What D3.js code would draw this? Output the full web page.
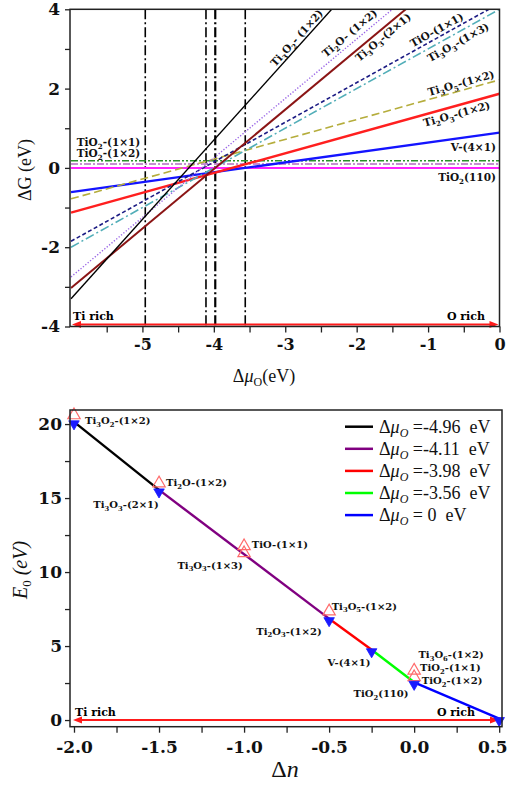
<!DOCTYPE html>
<html><head><meta charset="utf-8">
<script src="https://cdn.jsdelivr.net/npm/d3@7"></script>
<style>body{margin:0;background:#fff}svg{display:block}</style>
</head><body>
<svg id="c" width="510" height="785"></svg>
<script>
// ---------------- DATA ----------------
// top panel: ΔG vs Δμ_O
const muTicks = [-5, -4, -3, -2, -1, 0];
const muMinor = [-5.5, -4.5, -3.5, -2.5, -1.5, -0.5];
const gTicks = [-4, -2, 0, 2, 4];
const gMinor = [-3, -1, 1, 3];
const surfaces = ["Ti_3O_2- (1×2)", "Ti_2O- (1×2)", "Ti_3O_3-(2×1)", "TiO-(1×1)", "Ti_3O_3-(1×3)",
  "Ti_3O_5-(1×2)", "Ti_2O_3-(1×2)", "V-(4×1)", "TiO_2(110)", "TiO_2-(1×1)", "TiO_2-(1×2)"];
const deltaN = [-2, -1.5, -1.5, -1, -1, -0.5, -0.5, -0.25, 0, 0, 0];
const gORich = [8.7, 6.25, 5.97, 4.15, 4.0, 2.22, 1.87, 0.89, 0, 0.18, 0.10];   // ΔG at Δμ_O = 0
const muBounds = [-4.96, -4.11, -3.98, -3.56];

// bottom panel: E0 vs Δn
const nTicks = [-2.0, -1.5, -1.0, -0.5, 0.0, 0.5];
const nMinor = [-1.75, -1.25, -0.75, -0.25, 0.25];
const eTicks = [0, 5, 10, 15, 20];
const eMinor = [2.5, 7.5, 12.5, 17.5];
const envN  = [-2, -1.5, -0.5, -0.25, 0, 0.5];
const envE0 = [20.15, 15.55, 6.85, 4.75, 2.55, 0.1];
const segMu = [-4.96, -4.11, -3.98, -3.56, 0];
const allN  = [-2, -1.5, -1, -1, -0.5, 0, 0];
const allE0 = [20.6, 16.0, 11.75, 11.28, 7.35, 3.35, 2.9];
const bottomNames = ["Ti_3O_2-(1×2)", "Ti_2O-(1×2)", "Ti_3O_3-(2×1)", "TiO-(1×1)", "Ti_3O_3-(1×3)",
  "Ti_3O_5-(1×2)", "Ti_2O_3-(1×2)", "V-(4×1)", "Ti_3O_6-(1×2)", "TiO_2-(1×1)", "TiO_2-(1×2)", "TiO_2(110)"];

// ---------------- STYLES / LAYOUT ----------------
const lineColors = ["#000000", "#9a66e6", "#8b1515", "#1c1c84", "#52aeb8", "#b5ad3c", "#ff1f1f", "#1414ff", "#ff22ff", "#2a8f2a", "#b36ac2"];
const lineDash = [null, "1.3,1.8", null, "4,2.5", "9,3,2,3", "8,4", null, null, null, "7,2,2,2,2,2", "7,2,2,2"];
const lineWidth = [1.4, 1.4, 2, 1.6, 1.6, 1.6, 2.4, 2.4, 2, 1.6, 1.6];
// top label anchors (data coords) : [mu, G, anchor, rotateWithLine]
const topLabelPos = [[-2.84, 3.28, "middle", 1], [-2.10, 3.40, "middle", 1], [-1.63, 3.30, "middle", 1],
  [-0.88, 3.48, "middle", 1], [-0.58, 3.17, "middle", 1], [-0.54, 2.14, "middle", 1], [-0.60, 1.36, "middle", 1],
  [-0.05, 0.53, "end", 0], [-0.05, -0.23, "end", 0], [-5.92, 0.65, "start", 0], [-5.92, 0.37, "start", 0]];
const segColors = ["#000000", "#800080", "#ff0000", "#00ff00", "#0000ff"];
// bottom label anchors in data coords [n, E0, anchor]
const bottomLabelPos = [[-1.935, 20.24, "start"], [-1.459, 16.05, "start"], [-1.694, 14.54, "middle"],
  [-0.955, 11.84, "start"], [-1.200, 10.48, "middle"], [-0.485, 7.71, "start"], [-0.736, 6.02, "middle"],
  [-0.383, 3.88, "middle"], [0.025, 4.45, "start"], [0.035, 3.57, "start"], [0.045, 2.66, "start"], [-0.195, 1.81, "middle"]];

const svg = d3.select("#c");
const BOLD = "'DejaVu Serif', serif";
const TIMES = "'Liberation Serif', 'Times New Roman', serif";

function rich(textSel, str, fs) {
  const parts = [];
  let i = 0;
  while (i < str.length) {
    if (str[i] === "_") { parts.push({t: str[i + 1], sub: true}); i += 2; }
    else { let j = i; while (j < str.length && str[j] !== "_") j++; parts.push({t: str.slice(i, j), sub: false}); i = j; }
  }
  const sh = fs * 0.28;
  let down = false;
  parts.forEach(p => {
    const ts = textSel.append("tspan").text(p.t);
    if (p.sub) { ts.attr("font-size", fs * 0.68); if (!down) ts.attr("dy", sh); down = true; }
    else if (down) { ts.attr("dy", -sh); down = false; }
  });
}

function arrow(g, xa, xb, y, color) {
  g.append("line").attr("x1", xa + 6).attr("x2", xb - 6).attr("y1", y).attr("y2", y)
    .attr("stroke", color).attr("stroke-width", 2);
  g.append("path").attr("d", `M${xa},${y} L${xa + 9},${y - 3.5} L${xa + 9},${y + 3.5} Z`).attr("fill", color);
  g.append("path").attr("d", `M${xb},${y} L${xb - 9},${y - 3.5} L${xb - 9},${y + 3.5} Z`).attr("fill", color);
}

function styleAxis(g, fs) {
  g.select(".domain").remove();
  g.selectAll(".tick line").attr("stroke", "#222").attr("stroke-width", 1.3);
  g.selectAll(".tick text").attr("font-family", BOLD).attr("font-weight", "bold")
    .attr("font-size", fs).attr("fill", "#111");
}

// ================= TOP PANEL =================
const x1 = d3.scaleLinear().domain([-6, 0]).range([71, 499.5]);
const y1 = d3.scaleLinear().domain([-4, 4]).range([326.5, 9.3]);
const gTop = svg.append("g");
gTop.append("clipPath").attr("id", "clipTop").append("rect")
  .attr("x", 70).attr("y", 9.3).attr("width", 429.5).attr("height", 317.2);
const plotT = gTop.append("g").attr("clip-path", "url(#clipTop)");

muBounds.forEach((m, i) => {
  plotT.append("line").attr("x1", x1(m)).attr("x2", x1(m)).attr("y1", y1(4)).attr("y2", y1(-4))
    .attr("stroke", "#000").attr("stroke-width", i === 2 ? 2.2 : 1.6).attr("stroke-dasharray", "10,3,2,3");
});
const order = [9, 10, 8, 7, 6, 5, 4, 3, 1, 2, 0];
order.forEach(i => {
  const f = m => gORich[i] - deltaN[i] * m;
  const p = plotT.append("line").attr("x1", x1(-6)).attr("x2", x1(0))
    .attr("y1", y1(f(-6))).attr("y2", y1(f(0)))
    .attr("stroke", lineColors[i]).attr("stroke-width", lineWidth[i]).attr("fill", "none");
  if (lineDash[i]) p.attr("stroke-dasharray", lineDash[i]);
});
arrow(gTop, 72, 498.5, y1(-3.95), "#ff1a1a");
gTop.append("text").attr("x", 73).attr("y", 320).attr("font-family", BOLD).attr("font-weight", "bold")
  .attr("font-size", 11).text("Ti rich");
gTop.append("text").attr("x", 485).attr("y", 320).attr("text-anchor", "end").attr("font-family", BOLD)
  .attr("font-weight", "bold").attr("font-size", 11).text("O rich");

const kx = (x1(1) - x1(0)), ky = (y1(0) - y1(1));
surfaces.forEach((s, i) => {
  const [m, gv, anc, rot] = topLabelPos[i];
  const ang = rot ? -Math.atan(-deltaN[i] * ky / kx) * 180 / Math.PI : 0;
  const t = gTop.append("text")
    .attr("transform", `translate(${x1(m)},${y1(gv)}) rotate(${ang})`)
    .attr("y", 3.8).attr("text-anchor", anc)
    .attr("font-family", BOLD).attr("font-weight", "bold").attr("font-size", 10.5).attr("fill", "#111");
  rich(t, s, 10.5);
});

gTop.append("rect").attr("x", 70).attr("y", 9.3).attr("width", 429.5).attr("height", 317.2)
  .attr("fill", "none").attr("stroke", "#222").attr("stroke-width", 1.5);
const axT1 = gTop.append("g").attr("transform", "translate(0,326.5)")
  .call(d3.axisBottom(x1).tickValues(muTicks).tickSize(6).tickPadding(6).tickFormat(d => String(d)));
styleAxis(axT1, 16);
const axT1m = gTop.append("g").attr("transform", "translate(0,326.5)")
  .call(d3.axisBottom(x1).tickValues(muMinor).tickSize(6).tickFormat(""));
styleAxis(axT1m, 16);
const axT2 = gTop.append("g").attr("transform", "translate(70,0)")
  .call(d3.axisLeft(y1).tickValues(gTicks).tickSize(5).tickPadding(5).tickFormat(d => String(d)));
styleAxis(axT2, 17);
const axT2m = gTop.append("g").attr("transform", "translate(70,0)")
  .call(d3.axisLeft(y1).tickValues(gMinor).tickSize(5).tickFormat(""));
styleAxis(axT2m, 17);

const tx = gTop.append("text").attr("x", 264).attr("y", 382).attr("text-anchor", "middle")
  .attr("font-family", TIMES).attr("font-size", 18).attr("fill", "#111");
tx.append("tspan").text("Δ");
tx.append("tspan").attr("font-style", "italic").text("μ");
tx.append("tspan").attr("font-size", 12).attr("dy", 4).text("O");
tx.append("tspan").attr("dy", -4).text("(eV)");
gTop.append("text").attr("transform", "translate(31,170) rotate(-90)").attr("text-anchor", "middle")
  .attr("font-family", TIMES).attr("font-size", 18).attr("fill", "#111").text("ΔG (eV)");

// ================= BOTTOM PANEL =================
const x2 = d3.scaleLinear().domain([-2.0235, 0.5165]).range([70, 502]);
const y2 = d3.scaleLinear().domain([-0.45, 20.95]).range([726.7, 410]);
const gBot = svg.append("g");

arrow(gBot, 73, 499, y2(0), "#ff1a1a");
gBot.append("text").attr("x", 75).attr("y", 716).attr("font-family", BOLD).attr("font-weight", "bold")
  .attr("font-size", 11).text("Ti rich");
gBot.append("text").attr("x", 475).attr("y", 716).attr("text-anchor", "end").attr("font-family", BOLD)
  .attr("font-weight", "bold").attr("font-size", 11).text("O rich");

for (let i = 0; i < envN.length - 1; i++) {
  gBot.append("line").attr("x1", x2(envN[i])).attr("y1", y2(envE0[i]))
    .attr("x2", x2(envN[i + 1])).attr("y2", y2(envE0[i + 1]))
    .attr("stroke", segColors[i]).attr("stroke-width", 2.4);
}
const triUp = d3.symbol(d3.symbolTriangle).size(66);
allN.forEach((n, i) => {
  gBot.append("path").attr("d", triUp()).attr("transform", `translate(${x2(n)},${y2(allE0[i])})`)
    .attr("fill", "none").attr("stroke", "#ff6b6b").attr("stroke-width", 1.2);
});
const triDn = d3.symbol(d3.symbolTriangle).size(48);
envN.forEach((n, i) => {
  gBot.append("path").attr("d", triDn()).attr("transform", `translate(${x2(n)},${y2(envE0[i]) + 2}) rotate(180)`)
    .attr("fill", "#1a1aff").attr("stroke", "#1a1aff").attr("stroke-width", 0.8);
});
bottomNames.forEach((s, i) => {
  const [n, e, anc] = bottomLabelPos[i];
  const t = gBot.append("text").attr("x", x2(n)).attr("y", y2(e) + 3.6).attr("text-anchor", anc)
    .attr("font-family", BOLD).attr("font-weight", "bold").attr("font-size", 10).attr("fill", "#111");
  rich(t, s, 10);
});

segMu.forEach((m, i) => {
  const ly = 426.7 + i * 22.1;
  gBot.append("line").attr("x1", 345).attr("x2", 373).attr("y1", ly).attr("y2", ly)
    .attr("stroke", segColors[i]).attr("stroke-width", 2.5);
  const t = gBot.append("text").attr("x", 379).attr("y", ly + 6).attr("font-family", TIMES)
    .attr("font-size", 18).attr("fill", "#111").style("white-space", "pre");
  t.append("tspan").text("Δ");
  t.append("tspan").attr("font-style", "italic").text("μ");
  t.append("tspan").attr("font-style", "italic").attr("font-size", 12).attr("dy", 4).text("O");
  t.append("tspan").attr("dy", -4).text(m === 0 ? " = 0  eV" : " =" + m.toFixed(2) + "  eV");
});

gBot.append("rect").attr("x", 70).attr("y", 410).attr("width", 432).attr("height", 316.7)
  .attr("fill", "none").attr("stroke", "#222").attr("stroke-width", 1.5);
const axB1 = gBot.append("g").attr("transform", "translate(0,726.7)")
  .call(d3.axisBottom(x2).tickValues(nTicks).tickSize(6).tickPadding(8).tickFormat(d => d.toFixed(1)));
styleAxis(axB1, 17);
axB1.selectAll(".tick text").filter(d => d === 0.5).attr("dx", -7);
const axB1m = gBot.append("g").attr("transform", "translate(0,726.7)")
  .call(d3.axisBottom(x2).tickValues(nMinor).tickSize(6).tickFormat(""));
styleAxis(axB1m, 17);
const axB2 = gBot.append("g").attr("transform", "translate(70,0)")
  .call(d3.axisLeft(y2).tickValues(eTicks).tickSize(5).tickPadding(3).tickFormat(d => String(d)));
styleAxis(axB2, 17);
const axB2m = gBot.append("g").attr("transform", "translate(70,0)")
  .call(d3.axisLeft(y2).tickValues(eMinor).tickSize(5).tickFormat(""));
styleAxis(axB2m, 17);

const bx = gBot.append("text").attr("x", 285).attr("y", 777).attr("text-anchor", "middle")
  .attr("font-family", TIMES).attr("font-size", 24).attr("fill", "#111");
bx.append("tspan").text("Δ");
bx.append("tspan").attr("font-style", "italic").text("n");
const byT = gBot.append("text").attr("transform", "translate(27,570) rotate(-90)").attr("text-anchor", "middle")
  .attr("font-family", TIMES).attr("font-size", 20).attr("font-style", "italic").attr("fill", "#111");
byT.append("tspan").text("E");
byT.append("tspan").attr("font-size", 13).attr("font-style", "normal").attr("dy", 4).text("0");
byT.append("tspan").attr("dy", -4).text(" (eV)");
</script>
</body></html>
